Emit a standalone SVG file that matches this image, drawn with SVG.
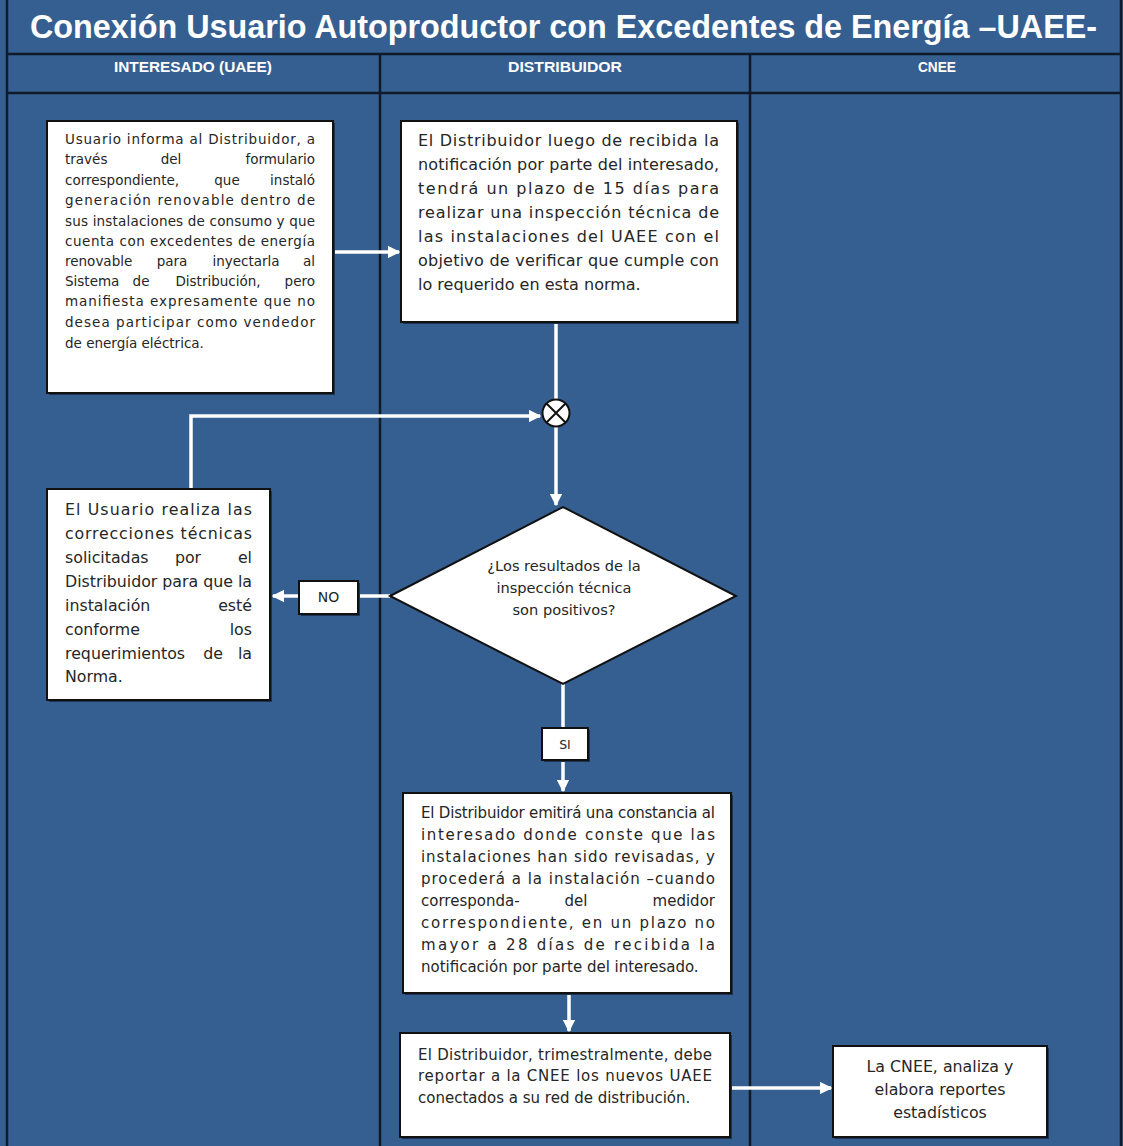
<svg xmlns="http://www.w3.org/2000/svg" width="1123" height="1146" viewBox="0 0 1123 1146">
<style>
.bg{fill:#365f91}
.grid{stroke:#0f1b2b;stroke-width:2.5;fill:none}
.box{fill:#ffffff;stroke:#111;stroke-width:2}
.shadow{fill:#1c3352}
.t{font-family:"DejaVu Sans","Liberation Sans",sans-serif;fill:#262626}
.s1{font-size:13.5px}
.s2{font-size:16px}
.s4{font-size:15.8px}
.s5{font-size:15px}
.sd{font-size:14.6px}
.m{text-anchor:middle}
.e{text-anchor:end}
.hdr{font-family:"Liberation Sans",Arial,sans-serif;font-weight:bold;font-size:14px;fill:#ffffff;text-anchor:middle}
.title{font-family:"Liberation Sans",Arial,sans-serif;font-weight:bold;font-size:33px;fill:#ffffff}
.conn{stroke:#ffffff;stroke-width:3.5;fill:none}
</style>
<defs>
<marker id="ah" viewBox="0 0 10 10" refX="9" refY="5" markerWidth="3.6" markerHeight="3.6" orient="auto" markerUnits="strokeWidth">
<path d="M0,0 L10,5 L0,10 z" fill="#ffffff"/>
</marker>
</defs>
<rect class="bg" x="0" y="0" width="1123" height="1146"/>
<g id="frame">
<line class="grid" x1="7" y1="0" x2="7" y2="1146"/>
<line class="grid" x1="1121" y1="0" x2="1121" y2="1146"/>
<line class="grid" x1="7" y1="54" x2="1121" y2="54"/>
<line class="grid" x1="7" y1="93" x2="1121" y2="93"/>
<line class="grid" x1="380" y1="54" x2="380" y2="1146"/>
<line class="grid" x1="750" y1="54" x2="750" y2="1146"/>
<text class="title" x="30" y="38" textLength="1067" lengthAdjust="spacingAndGlyphs">Conexión Usuario Autoproductor con Excedentes de Energía –UAEE-</text>
<text class="hdr" x="193" y="72" textLength="158" lengthAdjust="spacingAndGlyphs">INTERESADO (UAEE)</text>
<text class="hdr" x="565" y="72" textLength="114" lengthAdjust="spacingAndGlyphs">DISTRIBUIDOR</text>
<text class="hdr" x="937" y="72" textLength="38" lengthAdjust="spacingAndGlyphs">CNEE</text>
</g>
<g id="connectors">
<line class="conn" x1="334" y1="252" x2="399" y2="252" marker-end="url(#ah)"/>
<line class="conn" x1="556" y1="323" x2="556" y2="399"/>
<polyline class="conn" points="191,489 191,416 540,416" marker-end="url(#ah)"/>
<line class="conn" x1="556" y1="427" x2="556" y2="505" marker-end="url(#ah)"/>
<line class="conn" x1="390" y1="596" x2="273" y2="596" marker-end="url(#ah)"/>
<line class="conn" x1="563" y1="684" x2="563" y2="791" marker-end="url(#ah)"/>
<line class="conn" x1="569" y1="994" x2="569" y2="1031" marker-end="url(#ah)"/>
<line class="conn" x1="731" y1="1088" x2="831" y2="1088" marker-end="url(#ah)"/>
</g>
<g id="n1">
<rect class="shadow" x="49" y="123" width="286" height="272"/>
<rect class="box" x="47" y="121" width="286" height="272"/>
<g class="t s1">
<text x="65" y="144" textLength="250" lengthAdjust="spacing">Usuario informa al Distribuidor, a</text>
<text x="65" y="164">través</text><text class="m" x="171" y="164">del</text><text class="e" x="315" y="164">formulario</text>
<text x="65" y="185">correspondiente,</text><text class="m" x="227" y="185">que</text><text class="e" x="315" y="185">instaló</text>
<text x="65" y="205" textLength="250" lengthAdjust="spacing">generación renovable dentro de</text>
<text x="65" y="226" textLength="250" lengthAdjust="spacing">sus instalaciones de consumo y que</text>
<text x="65" y="246" textLength="250" lengthAdjust="spacing">cuenta con excedentes de energía</text>
<text x="65" y="266">renovable</text><text class="m" x="172" y="266">para</text><text class="m" x="246" y="266">inyectarla</text><text class="e" x="315" y="266">al</text>
<text x="65" y="286">Sistema</text><text class="m" x="141" y="286">de</text><text class="m" x="218" y="286">Distribución,</text><text class="e" x="315" y="286">pero</text>
<text x="65" y="306" textLength="250" lengthAdjust="spacing">manifiesta expresamente que no</text>
<text x="65" y="327" textLength="250" lengthAdjust="spacing">desea participar como vendedor</text>
<text x="65" y="348">de energía eléctrica.</text>
</g>
</g>
<g id="n2">
<rect class="shadow" x="403" y="123" width="336" height="201"/>
<rect class="box" x="401" y="121" width="336" height="201"/>
<g class="t s2">
<text x="418" y="146" textLength="301" lengthAdjust="spacing">El Distribuidor luego de recibida la</text>
<text x="418" y="170" textLength="301" lengthAdjust="spacing">notificación por parte del interesado,</text>
<text x="418" y="194" textLength="301" lengthAdjust="spacing">tendrá  un plazo de 15 días para</text>
<text x="418" y="218" textLength="301" lengthAdjust="spacing">realizar una inspección técnica de</text>
<text x="418" y="242" textLength="301" lengthAdjust="spacing">las instalaciones del UAEE con el</text>
<text x="418" y="266" textLength="301" lengthAdjust="spacing">objetivo de verificar que cumple con</text>
<text x="418" y="290">lo requerido en esta norma.</text>
</g>
</g>
<g id="junction">
<circle cx="556" cy="413" r="13.5" fill="#ffffff" stroke="#111" stroke-width="2"/>
<path d="M546.5,403.5 L565.5,422.5 M565.5,403.5 L546.5,422.5" stroke="#111" stroke-width="2"/>
</g>
<g id="decision">
<polygon points="390,596 563,507 736,596 563,684" fill="#ffffff" stroke="#111" stroke-width="2"/>
<g class="t sd">
<text class="m" x="564" y="571">¿Los resultados de la</text>
<text class="m" x="564" y="593">inspección técnica</text>
<text class="m" x="564" y="615">son positivos?</text>
</g>
</g>
<g id="n4">
<rect class="shadow" x="49" y="491" width="223" height="211"/>
<rect class="box" x="47" y="489" width="223" height="211"/>
<g class="t s4">
<text x="65" y="515" textLength="187" lengthAdjust="spacing">El Usuario realiza las</text>
<text x="65" y="539" textLength="187" lengthAdjust="spacing">correcciones técnicas</text>
<text x="65" y="563">solicitadas</text><text class="m" x="188" y="563">por</text><text class="e" x="252" y="563">el</text>
<text x="65" y="587" textLength="187" lengthAdjust="spacing">Distribuidor para que la</text>
<text x="65" y="611">instalación</text><text class="e" x="252" y="611">esté</text>
<text x="65" y="635">conforme</text><text class="e" x="252" y="635">los</text>
<text x="65" y="659">requerimientos</text><text class="m" x="213" y="659">de</text><text class="e" x="252" y="659">la</text>
<text x="65" y="682">Norma.</text>
</g>
</g>
<g id="label-no">
<rect class="shadow" x="301" y="583" width="59" height="33"/>
<rect class="box" x="299" y="581" width="59" height="33"/>
<text class="t m" style="font-size:14px" x="328.5" y="602">NO</text>
</g>
<g id="label-si">
<rect class="shadow" x="544" y="730" width="46" height="32"/>
<rect class="box" x="542" y="728" width="46" height="32"/>
<text class="t m" style="font-size:12.5px" x="565" y="749">SI</text>
</g>
<g id="n5">
<rect class="shadow" x="405" y="795" width="328" height="200"/>
<rect class="box" x="403" y="793" width="328" height="200"/>
<g class="t s5">
<text x="421" y="818" textLength="294" lengthAdjust="spacing">El Distribuidor emitirá una constancia al</text>
<text x="421" y="840" textLength="294" lengthAdjust="spacing">interesado donde conste que las</text>
<text x="421" y="862" textLength="294" lengthAdjust="spacing">instalaciones han sido revisadas, y</text>
<text x="421" y="884" textLength="294" lengthAdjust="spacing">procederá a la instalación –cuando</text>
<text x="421" y="906">corresponda-</text><text class="m" x="576" y="906">del</text><text class="e" x="715" y="906">medidor</text>
<text x="421" y="928" textLength="294" lengthAdjust="spacing">correspondiente, en un plazo no</text>
<text x="421" y="950" textLength="294" lengthAdjust="spacing">mayor a 28 días de recibida la</text>
<text x="421" y="972">notificación por parte del interesado.</text>
</g>
</g>
<g id="n6">
<rect class="shadow" x="402" y="1035" width="330" height="104"/>
<rect class="box" x="400" y="1033" width="330" height="104"/>
<g class="t s5">
<text x="418" y="1060" textLength="294" lengthAdjust="spacing">El Distribuidor, trimestralmente, debe</text>
<text x="418" y="1081" textLength="294" lengthAdjust="spacing">reportar a la CNEE los nuevos UAEE</text>
<text x="418" y="1103">conectados a su red de distribución.</text>
</g>
</g>
<g id="n7">
<rect class="shadow" x="835" y="1048" width="214" height="91"/>
<rect class="box" x="833" y="1046" width="214" height="91"/>
<g class="t s4">
<text class="m" x="940" y="1072">La CNEE, analiza y</text>
<text class="m" x="940" y="1095">elabora reportes</text>
<text class="m" x="940" y="1118">estadísticos</text>
</g>
</g>
</svg>
